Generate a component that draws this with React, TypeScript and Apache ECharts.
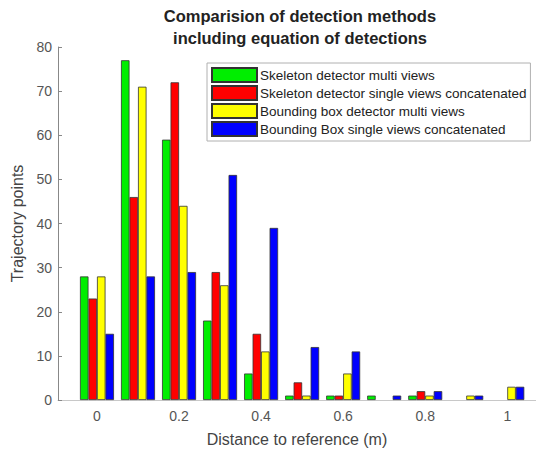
import React, { useEffect, useRef } from "react";
import * as echarts from "echarts";

const distances = [0, 0.1, 0.2, 0.3, 0.4, 0.5, 0.6, 0.7, 0.8, 0.9, 1.0];
const seriesNames = [
  "Skeleton detector multi views",
  "Skeleton detector single views concatenated",
  "Bounding box detector multi views",
  "Bounding Box single views concatenated",
];
const skeletonMulti = [28, 77, 59, 18, 6, 1, 1, 1, 1, 0, 0];
const skeletonSingle = [23, 46, 72, 29, 15, 4, 1, 0, 2, 0, 0];
const bboxMulti = [28, 71, 44, 26, 11, 1, 6, 0, 1, 1, 3];
const bboxSingle = [15, 28, 29, 51, 39, 12, 11, 1, 2, 1, 3];
const seriesColors = ["#00ee00", "#ff0000", "#ffff00", "#0000ff"];
const yTicks = [0, 10, 20, 30, 40, 50, 60, 70, 80];

const FONT = "'Liberation Sans', Arial, Helvetica, sans-serif";

export default function App() {
  const ref = useRef<HTMLDivElement>(null);
  useEffect(() => {
    if (!ref.current) return;
    const chart = echarts.init(ref.current, undefined, { renderer: "svg" });
    const allValues = [skeletonMulti, skeletonSingle, bboxMulti, bboxSingle];
    const series = allValues.map((vals, i) => ({
      name: seriesNames[i],
      type: "bar",
      barWidth: 8.5,
      barGap: "0%",
      data: vals.map((v, k) => (v === 0 ? [distances[k], "-"] : [distances[k], v])),
      itemStyle: {
        color: seriesColors[i],
        borderColor: "#333",
        borderWidth: 0.8,
      },
    }));
    chart.setOption({
      animation: false,
      textStyle: { fontFamily: FONT },
      title: {
        text: "Comparision of detection methods\nincluding equation of detections",
        left: 295,
        textAlign: "center",
        top: 0,
        textStyle: {
          fontFamily: FONT,
          fontSize: 16.5,
          fontWeight: "bold",
          color: "#222",
          lineHeight: 22,
        },
      },
      legend: {
        orient: "vertical",
        left: 207,
        top: 63,
        itemWidth: 45,
        itemHeight: 14,
        itemGap: 2,
        padding: [4, 4, 4, 4],
        borderColor: "#b0b0b0",
        borderWidth: 1,
        backgroundColor: "#fff",
        icon: "rect",
        textStyle: { fontFamily: FONT, fontSize: 13.5, color: "#222", padding: [0, 0, 0, -2] },
        data: seriesNames,
      },
      grid: { left: 58, right: 0, top: 47, bottom: 45, containLabel: false },
      xAxis: {
        type: "value",
        min: -0.095,
        max: 1.07,
        name: "Distance to reference (m)",
        nameLocation: "middle",
        nameGap: 31,
        nameTextStyle: { fontFamily: FONT, fontSize: 16, color: "#444" },
        splitLine: { show: false },
        axisLine: { show: true, onZero: false, lineStyle: { color: "#c8c8c8", width: 1 } },
        axisTick: { show: false },
        axisLabel: {
          fontFamily: FONT,
          fontSize: 14,
          color: "#555",
          margin: 9,
          showMinLabel: false,
          showMaxLabel: false,
          formatter: (v: number) => {
            const r = v / 0.2;
            if (Math.abs(r - Math.round(r)) > 1e-6) return "";
            return String(Math.round(v * 10) / 10);
          },
        },
      },
      yAxis: {
        type: "value",
        min: yTicks[0],
        max: yTicks[yTicks.length - 1],
        interval: 10,
        name: "Trajectory points",
        nameLocation: "middle",
        nameGap: 29,
        nameTextStyle: { fontFamily: FONT, fontSize: 16, color: "#444" },
        splitLine: { show: false },
        axisLine: { show: true, onZero: false, lineStyle: { color: "#888", width: 1 } },
        axisTick: { show: true, inside: true, length: 4, lineStyle: { color: "#888" } },
        axisLabel: { fontFamily: FONT, fontSize: 14, color: "#555", margin: 6 },
      },
      series,
    });
    return () => chart.dispose();
  }, []);
  return <div ref={ref} style={{ width: 536, height: 452, position: "absolute", left: 0, top: 0 }} />;
}
